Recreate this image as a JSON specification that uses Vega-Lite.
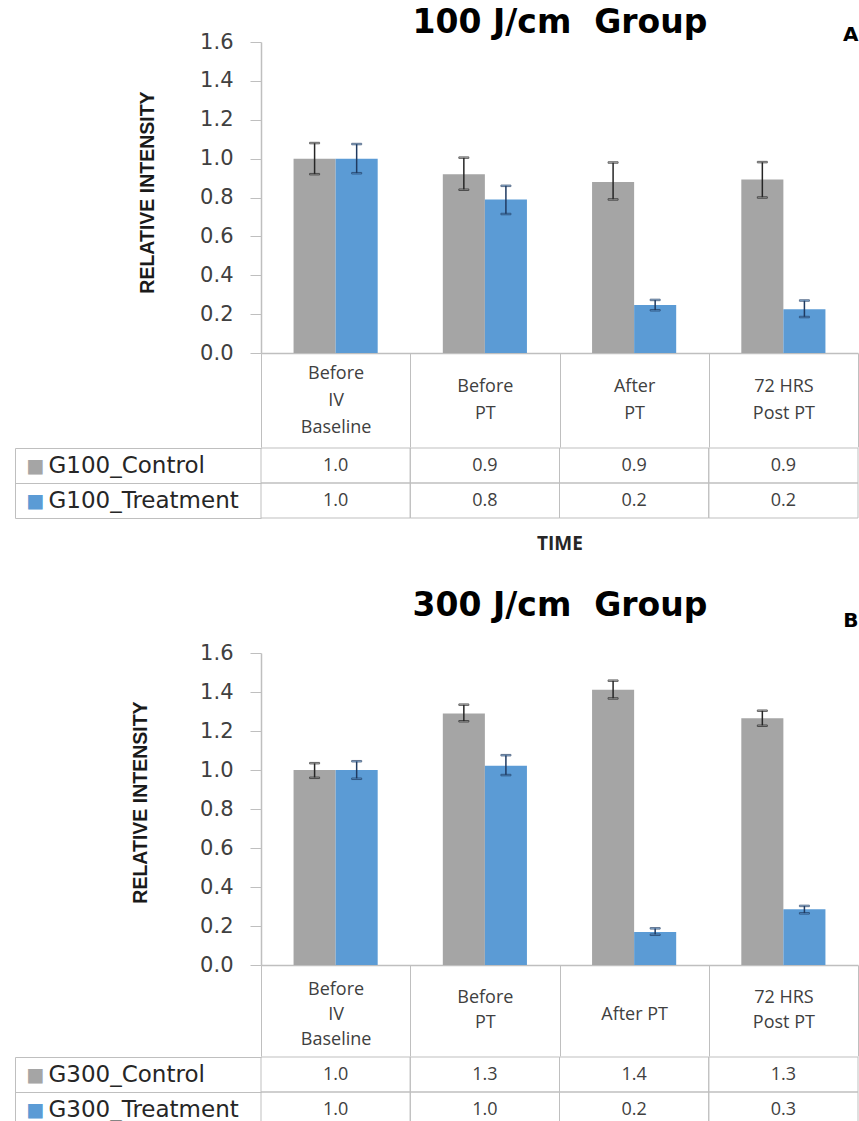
{
  "$schema": "https://vega.github.io/schema/vega-lite/v6.json",
  "padding": {"left": 14, "top": 6, "right": 2, "bottom": 0},
  "background": "white",
  "config": {"view": {"stroke": null}, "axis": {"grid": false}},
  "datasets": {
    "a": [
      {"cat": "Before|IV|Baseline", "grp": "Control", "series": "G100_Control", "v": 1.0, "lo": 0.92, "hi": 1.08},
      {"cat": "Before|IV|Baseline", "grp": "Treatment", "series": "G100_Treatment", "v": 1.0, "lo": 0.925, "hi": 1.075},
      {"cat": "Before|PT", "grp": "Control", "series": "G100_Control", "v": 0.92, "lo": 0.84, "hi": 1.005},
      {"cat": "Before|PT", "grp": "Treatment", "series": "G100_Treatment", "v": 0.79, "lo": 0.715, "hi": 0.86},
      {"cat": "After|PT", "grp": "Control", "series": "G100_Control", "v": 0.88, "lo": 0.79, "hi": 0.98},
      {"cat": "After|PT", "grp": "Treatment", "series": "G100_Treatment", "v": 0.247, "lo": 0.22, "hi": 0.273},
      {"cat": "72 HRS|Post PT", "grp": "Control", "series": "G100_Control", "v": 0.893, "lo": 0.8, "hi": 0.982},
      {"cat": "72 HRS|Post PT", "grp": "Treatment", "series": "G100_Treatment", "v": 0.225, "lo": 0.185, "hi": 0.27}
    ],
    "b": [
      {"cat": "Before|IV|Baseline", "grp": "Control", "series": "G300_Control", "v": 1.0, "lo": 0.96, "hi": 1.035},
      {"cat": "Before|IV|Baseline", "grp": "Treatment", "series": "G300_Treatment", "v": 1.0, "lo": 0.955, "hi": 1.045},
      {"cat": "Before|PT", "grp": "Control", "series": "G300_Control", "v": 1.29, "lo": 1.25, "hi": 1.335},
      {"cat": "Before|PT", "grp": "Treatment", "series": "G300_Treatment", "v": 1.022, "lo": 0.974, "hi": 1.076},
      {"cat": "After PT", "grp": "Control", "series": "G300_Control", "v": 1.412, "lo": 1.367, "hi": 1.458},
      {"cat": "After PT", "grp": "Treatment", "series": "G300_Treatment", "v": 0.169, "lo": 0.155, "hi": 0.188},
      {"cat": "72 HRS|Post PT", "grp": "Control", "series": "G300_Control", "v": 1.266, "lo": 1.227, "hi": 1.304},
      {"cat": "72 HRS|Post PT", "grp": "Treatment", "series": "G300_Treatment", "v": 0.286, "lo": 0.265, "hi": 0.303}
    ]
  },
  "spacing": 36,
  "vconcat": [
    {
      "spacing": -15,
      "vconcat": [
        {
          "width": 597, "height": 311,
          "data": {"name": "a"},
          "layer": [
            {
              "mark": {"type": "bar"},
              "encoding": {
                "x": {"field": "cat", "type": "nominal", "sort": null, "scale": {"paddingInner": 0, "paddingOuter": 0},
                  "axis": {"orient": "bottom", "title": null, "domainColor": "#bfbfbf", "domainWidth": 1.5, "tickBand": "extent", "tickSize": 94, "tickColor": "#bfbfbf", "tickWidth": 1, "labelExpr": "split(datum.label, '|')", "labelFont": "Open Sans", "labelFontSize": 18, "labelColor": "#404040", "labelBaseline": "middle", "labelPadding": {"condition": {"test": "indexof(datum.label, 'Baseline') >= 0", "value": -74}, "value": -61}, "labelLineHeight": 27, "labelAngle": 0, "labelOverlap": false}},
                "xOffset": {"field": "grp", "type": "nominal", "scale": {"paddingInner": 0, "paddingOuter": 0.774}},
                "y": {"field": "v", "type": "quantitative", "scale": {"domain": [0, 1.6], "nice": false, "zero": true},
                  "axis": {"values": [0, 0.2, 0.4, 0.6, 0.8, 1.0, 1.2, 1.4, 1.6], "format": ".1f", "domainColor": "#bfbfbf", "domainWidth": 1.5, "tickColor": "#bfbfbf", "tickSize": 11, "labelPadding": 17, "labelFont": "DejaVu Sans", "labelFontSize": 21, "labelColor": "#404040", "title": "RELATIVE INTENSITY", "titleFont": "Liberation Sans", "titleFontWeight": "bold", "titleFontSize": 19.5, "titleColor": "#1a1a1a", "titleX": -114, "titleY": 150, "titleAngle": -90, "titleBaseline": "middle", "titleAlign": "center"}},
                "color": {"field": "grp", "type": "nominal", "scale": {"domain": ["Control", "Treatment"], "range": ["#a5a5a5", "#5b9bd5"]}, "legend": null}
              }
            },
            {
              "mark": {"type": "rule", "strokeWidth": 1.5},
              "encoding": {
                "x": {"field": "cat", "type": "nominal", "sort": null,
                  "axis": {"orient": "top", "title": "100 J/cm\u00a0 Group", "titleFont": "DejaVu Sans", "titleFontWeight": "bold", "titleFontSize": 33, "titleColor": "#000000", "titlePadding": 3, "labels": false, "ticks": false, "domain": false}},
                "xOffset": {"field": "grp", "type": "nominal"},
                "y": {"field": "lo", "type": "quantitative",
                  "axis": {"orient": "right", "title": "A", "titleAngle": 0, "titleX": 0, "titleY": -2, "titleAlign": "right", "titleBaseline": "alphabetic", "titleFont": "DejaVu Sans", "titleFontWeight": "bold", "titleFontSize": 20, "titleColor": "#000000", "labels": false, "ticks": false, "domain": false}},
                "y2": {"field": "hi"},
                "stroke": {"field": "grp", "type": "nominal", "scale": {"domain": ["Control", "Treatment"], "range": ["#262626", "#1f3a60"]}, "legend": null}
              }
            },
            {
              "mark": {"type": "tick", "size": 10, "thickness": 1.5},
              "encoding": {
                "x": {"field": "cat", "type": "nominal", "sort": null, "axis": null},
                "xOffset": {"field": "grp", "type": "nominal"},
                "y": {"field": "hi", "type": "quantitative", "axis": null},
                "color": {"field": "grp", "type": "nominal", "legend": null},
                "stroke": {"field": "grp", "type": "nominal", "legend": null}
              }
            },
            {
              "mark": {"type": "tick", "size": 10, "thickness": 1.5},
              "encoding": {
                "x": {"field": "cat", "type": "nominal", "sort": null, "axis": null},
                "xOffset": {"field": "grp", "type": "nominal"},
                "y": {"field": "lo", "type": "quantitative", "axis": null},
                "color": {"field": "grp", "type": "nominal", "legend": null},
                "stroke": {"field": "grp", "type": "nominal", "legend": null}
              }
            }
          ],
          "resolve": {"axis": {"x": "independent", "y": "independent"}}
        },
        {
          "width": 597, "height": 70,
          "data": {"name": "a"},
          "layer": [
            {
              "mark": {"type": "rect", "fill": "white", "fillOpacity": 0, "stroke": "#bfbfbf", "strokeWidth": 1},
              "encoding": {
                "x": {"field": "cat", "type": "nominal", "sort": null, "scale": {"paddingInner": 0, "paddingOuter": 0},
                  "axis": {"orient": "bottom", "labels": false, "ticks": false, "domain": false, "title": "TIME", "titleFont": "Open Sans", "titleFontWeight": "bold", "titleFontSize": 19, "titlePadding": 16, "titleColor": "#262626"}},
                "y": {"field": "series", "type": "nominal", "scale": {"paddingInner": 0, "paddingOuter": 0},
                  "axis": {"title": null, "domain": false, "tickBand": "extent", "tickSize": 246, "tickColor": "#bfbfbf", "labelAlign": "left", "labelPadding": -33, "labelLimit": 400, "labelFont": "DejaVu Sans", "labelFontSize": 23, "labelColor": "#262626", "labelBaseline": "middle"}}
              }
            },
            {
              "mark": {"type": "text", "font": "Open Sans", "fontSize": 18, "color": "#404040"},
              "encoding": {
                "x": {"field": "cat", "type": "nominal", "sort": null, "axis": null},
                "y": {"field": "series", "type": "nominal",
                  "axis": {"orient": "left", "offset": 246, "title": null, "domain": true, "domainColor": "#bfbfbf", "ticks": false, "tickSize": 0, "labelExpr": "'■'", "labelAlign": "left", "labelPadding": -11, "labelFont": "DejaVu Sans", "labelFontSize": 19, "labelBaseline": "middle", "labelColor": {"condition": {"test": "indexof(datum.value, 'Control') >= 0", "value": "#a5a5a5"}, "value": "#5b9bd5"}}},
                "text": {"field": "v", "type": "quantitative", "format": ".1f"}
              }
            }
          ],
          "resolve": {"axis": {"x": "independent", "y": "independent"}}
        }
      ]
    },
    {
      "spacing": -14,
      "vconcat": [
        {
          "width": 597, "height": 312,
          "data": {"name": "b"},
          "layer": [
            {
              "mark": {"type": "bar"},
              "encoding": {
                "x": {"field": "cat", "type": "nominal", "sort": null, "scale": {"paddingInner": 0, "paddingOuter": 0},
                  "axis": {"orient": "bottom", "title": null, "domainColor": "#bfbfbf", "domainWidth": 1.5, "tickBand": "extent", "tickSize": 91, "tickColor": "#bfbfbf", "tickWidth": 1, "labelExpr": "split(datum.label, '|')", "labelFont": "Open Sans", "labelFontSize": 18, "labelColor": "#404040", "labelBaseline": "middle", "labelPadding": {"condition": [{"test": "indexof(datum.label, 'Baseline') >= 0", "value": -67}, {"test": "indexof(datum.label, '|') < 0", "value": -42}], "value": -59}, "labelLineHeight": 25, "labelAngle": 0, "labelOverlap": false}},
                "xOffset": {"field": "grp", "type": "nominal", "scale": {"paddingInner": 0, "paddingOuter": 0.774}},
                "y": {"field": "v", "type": "quantitative", "scale": {"domain": [0, 1.6], "nice": false, "zero": true},
                  "axis": {"values": [0, 0.2, 0.4, 0.6, 0.8, 1.0, 1.2, 1.4, 1.6], "format": ".1f", "domainColor": "#bfbfbf", "domainWidth": 1.5, "tickColor": "#bfbfbf", "tickSize": 11, "labelPadding": 17, "labelFont": "DejaVu Sans", "labelFontSize": 21, "labelColor": "#404040", "title": "RELATIVE INTENSITY", "titleFont": "Liberation Sans", "titleFontWeight": "bold", "titleFontSize": 19.5, "titleColor": "#1a1a1a", "titleX": -121, "titleY": 149, "titleAngle": -90, "titleBaseline": "middle", "titleAlign": "center"}},
                "color": {"field": "grp", "type": "nominal", "scale": {"domain": ["Control", "Treatment"], "range": ["#a5a5a5", "#5b9bd5"]}, "legend": null}
              }
            },
            {
              "mark": {"type": "rule", "strokeWidth": 1.5},
              "encoding": {
                "x": {"field": "cat", "type": "nominal", "sort": null,
                  "axis": {"orient": "top", "title": "300 J/cm\u00a0 Group", "titleFont": "DejaVu Sans", "titleFontWeight": "bold", "titleFontSize": 33, "titleColor": "#000000", "titlePadding": 31, "labels": false, "ticks": false, "domain": false}},
                "xOffset": {"field": "grp", "type": "nominal"},
                "y": {"field": "lo", "type": "quantitative",
                  "axis": {"orient": "right", "title": "B", "titleAngle": 0, "titleX": 0, "titleY": -27, "titleAlign": "right", "titleBaseline": "alphabetic", "titleFont": "DejaVu Sans", "titleFontWeight": "bold", "titleFontSize": 20, "titleColor": "#000000", "labels": false, "ticks": false, "domain": false}},
                "y2": {"field": "hi"},
                "stroke": {"field": "grp", "type": "nominal", "scale": {"domain": ["Control", "Treatment"], "range": ["#262626", "#1f3a60"]}, "legend": null}
              }
            },
            {
              "mark": {"type": "tick", "size": 10, "thickness": 1.5},
              "encoding": {
                "x": {"field": "cat", "type": "nominal", "sort": null, "axis": null},
                "xOffset": {"field": "grp", "type": "nominal"},
                "y": {"field": "hi", "type": "quantitative", "axis": null},
                "color": {"field": "grp", "type": "nominal", "legend": null},
                "stroke": {"field": "grp", "type": "nominal", "legend": null}
              }
            },
            {
              "mark": {"type": "tick", "size": 10, "thickness": 1.5},
              "encoding": {
                "x": {"field": "cat", "type": "nominal", "sort": null, "axis": null},
                "xOffset": {"field": "grp", "type": "nominal"},
                "y": {"field": "lo", "type": "quantitative", "axis": null},
                "color": {"field": "grp", "type": "nominal", "legend": null},
                "stroke": {"field": "grp", "type": "nominal", "legend": null}
              }
            }
          ],
          "resolve": {"axis": {"x": "independent", "y": "independent"}}
        },
        {
          "width": 597, "height": 70,
          "data": {"name": "b"},
          "layer": [
            {
              "mark": {"type": "rect", "fill": "white", "fillOpacity": 0, "stroke": "#bfbfbf", "strokeWidth": 1},
              "encoding": {
                "x": {"field": "cat", "type": "nominal", "sort": null, "scale": {"paddingInner": 0, "paddingOuter": 0}, "axis": null},
                "y": {"field": "series", "type": "nominal", "scale": {"paddingInner": 0, "paddingOuter": 0},
                  "axis": {"title": null, "domain": false, "tickBand": "extent", "tickSize": 246, "tickColor": "#bfbfbf", "labelAlign": "left", "labelPadding": -33, "labelLimit": 400, "labelFont": "DejaVu Sans", "labelFontSize": 23, "labelColor": "#262626", "labelBaseline": "middle"}}
              }
            },
            {
              "mark": {"type": "text", "font": "Open Sans", "fontSize": 18, "color": "#404040"},
              "encoding": {
                "x": {"field": "cat", "type": "nominal", "sort": null, "axis": null},
                "y": {"field": "series", "type": "nominal",
                  "axis": {"orient": "left", "offset": 246, "title": null, "domain": true, "domainColor": "#bfbfbf", "ticks": false, "tickSize": 0, "labelExpr": "'■'", "labelAlign": "left", "labelPadding": -11, "labelFont": "DejaVu Sans", "labelFontSize": 19, "labelBaseline": "middle", "labelColor": {"condition": {"test": "indexof(datum.value, 'Control') >= 0", "value": "#a5a5a5"}, "value": "#5b9bd5"}}},
                "text": {"field": "v", "type": "quantitative", "format": ".1f"}
              }
            }
          ],
          "resolve": {"axis": {"x": "independent", "y": "independent"}}
        }
      ]
    }
  ]
}
